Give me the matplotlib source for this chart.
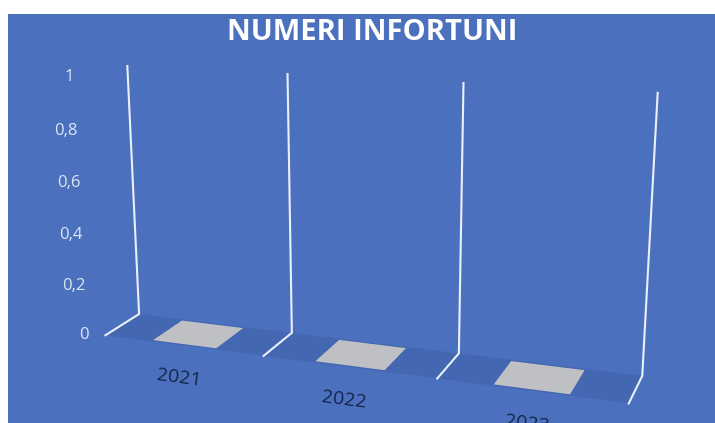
import numpy as np
import matplotlib.pyplot as plt
from matplotlib.patches import Polygon, Rectangle

titolo = 'NUMERI INFORTUNI'
anni = ['2021', '2022', '2023']
infortuni = [0, 0, 0]
tick_val = [0, 0.2, 0.4, 0.6, 0.8, 1]
tick_lab = ['0', '0,2', '0,4', '0,6', '0,8', '1']

# 3D view (Excel-like perspective): world (category, depth, value) -> pixels
P = np.array([[146.424, 39.7272, -18.5671, 105.412],
              [4.76443, -7.55908, -262.106, 335.262],
              [-0.0445451, 0.043569, -0.0495606, 1.0]])

def proj(X, Y, Z):
    p = P @ np.array([X, Y, Z, 1.0])
    return p[0]/p[2], p[1]/p[2]

fig = plt.figure(figsize=(7.15, 4.23), dpi=100)
fig.patch.set_facecolor('white')
ax = fig.add_axes([0, 0, 1, 1])
ax.set_xlim(0, 715)
ax.set_ylim(423, 0)
ax.axis('off')
ax.add_patch(Rectangle((8, 14), 715, 423, facecolor='#4B71BE', edgecolor='none', zorder=0))

# floor
n = len(anni)
floor = [proj(0, 0, 0), proj(n, 0, 0), proj(n, 1, 0), proj(0, 1, 0)]
ax.add_patch(Polygon(floor, closed=True, facecolor='#4467B1', edgecolor='none'))

# category dividers (floor + back wall)
for k in range(n+1):
    pts = np.array([proj(k, 0, 0), proj(k, 1, 0), proj(k, 1, 1)])
    ax.plot(pts[:, 0], pts[:, 1], color='#EAF0FA', lw=1.5, solid_joinstyle='miter')

# columns (all zero -> only the flat top shows)
for i, val in enumerate(infortuni):
    top = [proj(i+0.3, 0.05, val), proj(i+0.7, 0.05, val),
           proj(i+0.7, 0.95, val), proj(i+0.3, 0.95, val)]
    if val > 0:
        front = [proj(i+0.3, 0.05, 0), proj(i+0.7, 0.05, 0),
                 proj(i+0.7, 0.05, val), proj(i+0.3, 0.05, val)]
        ax.add_patch(Polygon(front, closed=True, facecolor='#A5A5A5', edgecolor='none'))
    ax.add_patch(Polygon(top, closed=True, facecolor='#BFC0C4', edgecolor='none'))

# value axis labels
for z, lab in zip(tick_val, tick_lab):
    u, v = proj(0, 0, z)
    ax.text(u-17, v, lab, ha='right', va='center', color='#DDE5F3', fontsize=12, family='Open Sans')

# category labels, following the floor edge
for i, lab in enumerate(anni):
    a, b = proj(i, 0, 0), proj(i+1, 0, 0)
    ang = -np.degrees(np.arctan2(b[1]-a[1], b[0]-a[0]))
    u, v = proj(i+0.5, 0, 0)
    ax.text(u-4, v+33, lab, ha='center', va='center', rotation=ang, rotation_mode='anchor',
            color='#15254A', fontsize=14, family='Open Sans')

ax.text(372, 33, titolo, ha='center', va='center', color='white', fontsize=21,
        fontweight='bold', family='Open Sans')

fig.savefig('out.png', dpi=100)
